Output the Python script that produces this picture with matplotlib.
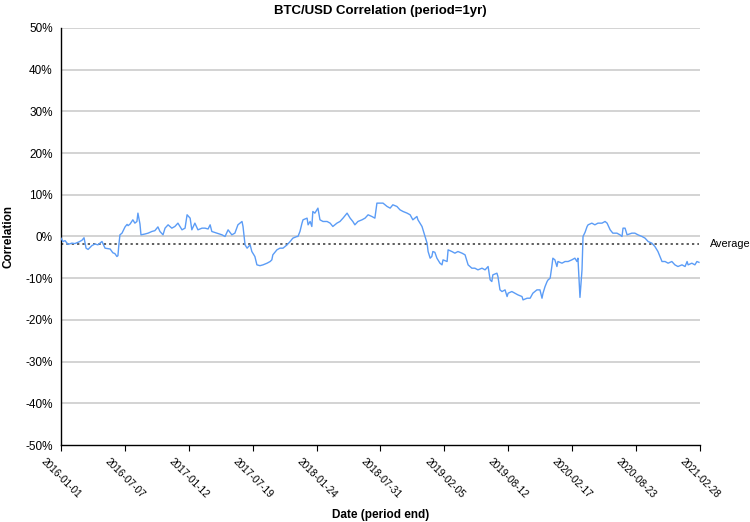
import matplotlib
matplotlib.use("Agg")
import matplotlib.pyplot as plt
import numpy as np

plt.rcParams['font.family'] = ['Liberation Sans', 'DejaVu Sans']

# day offset from 2016-01-01 (period end), correlation in %
days = [0, 6, 12, 21, 32, 41, 53, 62, 68, 74, 80, 91, 100, 109, 121, 130, 145, 153, 159, 165,
        168, 171, 174, 180, 189, 195, 198, 204, 212, 218, 224, 227, 233, 236, 248, 257, 268, 277,
        286, 292, 301, 307, 316, 327, 336, 345, 357, 366, 372, 381, 386, 395, 404, 416, 425, 434,
        440, 445, 460, 475, 484, 493, 504, 513, 522, 534, 537, 543, 549, 558, 563, 572, 578, 587,
        596, 608, 617, 622, 625, 637, 646, 655, 667, 676, 684, 696, 699, 705, 711, 714, 726, 729,
        735, 740, 743, 749, 752, 758, 764, 773, 785, 794, 802, 814, 823, 832, 844, 853, 861, 867,
        876, 888, 897, 906, 917, 926, 932, 941, 950, 962, 971, 979, 991, 1000, 1009, 1021, 1030,
        1038, 1050, 1053, 1059, 1065, 1068, 1074, 1080, 1083, 1089, 1094, 1097, 1103, 1109, 1118,
        1124, 1127, 1139, 1142, 1153, 1162, 1171, 1183, 1192, 1201, 1212, 1221, 1230, 1242, 1251,
        1260, 1266, 1271, 1274, 1286, 1289, 1295, 1301, 1310, 1316, 1319, 1330, 1339, 1348, 1360,
        1363, 1375, 1384, 1392, 1404, 1413, 1419, 1422, 1428, 1434, 1437, 1443, 1448, 1451, 1457,
        1463, 1466, 1478, 1487, 1496, 1507, 1516, 1522, 1525, 1531, 1537, 1540, 1546, 1552, 1555,
        1566, 1575, 1584, 1596, 1605, 1611, 1620, 1628, 1640, 1649, 1655, 1658, 1664, 1670, 1684,
        1693, 1702, 1714, 1723, 1732, 1743, 1752, 1761, 1767, 1773, 1782, 1791, 1802, 1811, 1820,
        1832, 1841, 1847, 1850, 1861, 1870, 1876, 1882]
corr = [-0.4, -1.2, -1.0, -1.9, -1.6, -1.7, -1.3, -0.9, -0.3, -2.8, -3.1, -2.2, -1.8, -2.0, -1.2,
        -2.8, -3.0, -3.9, -4.1, -4.8, -4.6, -1.8, 0.4, 0.8, 2.3, 2.9, 2.6, 3.0, 4.0, 3.2, 3.6, 5.6,
        3.0, 0.4, 0.6, 0.8, 1.2, 1.4, 2.3, 1.2, 0.4, 2.0, 2.8, 2.0, 2.4, 3.2, 1.6, 2.0, 5.2, 4.4,
        1.6, 3.2, 1.6, 2.0, 2.0, 1.8, 2.8, 1.2, 0.8, 0.4, 0.0, 1.6, 0.4, 0.8, 2.8, 3.6, 2.4, -2.0,
        -2.8, -2.0, -3.6, -4.8, -6.8, -7.0, -6.8, -6.4, -6.0, -5.6, -4.4, -3.2, -2.8, -2.8, -2.0,
        -1.2, -0.4, 0.0, 0.0, 1.2, 3.2, 4.0, 4.4, 2.8, 3.6, 2.4, 6.0, 5.6, 6.0, 6.8, 4.0, 3.6, 3.6,
        3.2, 2.4, 3.2, 3.6, 4.4, 5.6, 4.4, 3.6, 2.8, 3.6, 4.0, 4.4, 5.2, 4.8, 4.4, 8.0, 8.0, 8.0,
        7.2, 6.8, 7.6, 7.2, 6.4, 6.0, 5.6, 5.2, 4.0, 4.8, 4.0, 3.2, 2.4, 1.6, 0.0, -1.6, -3.6,
        -5.2, -4.8, -3.6, -3.8, -5.2, -6.4, -6.8, -5.6, -6.0, -3.2, -3.6, -4.0, -3.6, -4.0, -4.4,
        -6.8, -7.6, -7.6, -8.0, -7.6, -8.0, -7.2, -10.4, -10.8, -9.2, -8.8, -9.6, -12.8, -13.2,
        -12.8, -14.4, -13.6, -13.2, -13.6, -14.0, -14.4, -15.2, -14.8, -14.8, -13.6, -12.8, -12.8,
        -14.8, -13.6, -12.0, -10.8, -10.4, -10.0, -7.2, -5.2, -5.6, -7.2, -6.0, -6.4, -6.0, -6.0,
        -5.6, -5.2, -6.0, -5.2, -14.6, -8.0, 0.0, 1.0, 2.4, 2.8, 3.2, 2.8, 3.2, 3.2, 3.6, 3.2, 1.6,
        0.8, 0.8, 0.4, 0.0, 2.0, 2.0, 0.4, 0.8, 0.8, 0.4, 0.0, -0.4, -1.2, -1.6, -2.4, -3.6, -4.8,
        -6.0, -6.0, -6.4, -6.0, -6.8, -7.2, -6.8, -7.2, -6.0, -6.8, -6.4, -6.8, -6.0, -6.2]
average = -1.9
span_days = 1885
tick_labels = ["2016-01-01", "2016-07-07", "2017-01-12", "2017-07-19", "2018-01-24", "2018-07-31",
               "2019-02-05", "2019-08-12", "2020-02-17", "2020-08-23", "2021-02-28"]
y_ticks = [-50, -40, -30, -20, -10, 0, 10, 20, 30, 40, 50]
y_labels = ["-50%", "-40%", "-30%", "-20%", "-10%", "0%", "10%", "20%", "30%", "40%", "50%"]

fig = plt.figure(figsize=(7.5, 5.22), dpi=100)
ax = fig.add_axes([0.0813, 0.1475, 0.852, 0.7989])

for yt in y_ticks[1:]:
    ax.axhline(yt, color='#c8c8c8', linewidth=1.1, zorder=1)

ax.plot(days, corr, color='#5b9cf6', linewidth=1.0, zorder=3)
ax.plot([0, days[-1]], [average, average], color='#333333', linewidth=1.1,
        linestyle=(0, (1.5, 2)), zorder=2)
ax.text(1.015, (average + 50) / 100, "Average", transform=ax.transAxes,
        fontsize=7.8, va='center', ha='left')

ax.set_xlim(0, span_days)
ax.set_ylim(-50, 50)
ax.set_yticks(y_ticks)
ax.set_yticklabels(y_labels, fontsize=8.5)
ax.set_xticks(np.linspace(0, span_days, len(tick_labels)))
ax.set_xticklabels(tick_labels, rotation=-45, ha='center', va='top', fontsize=7.3)
ax.tick_params(axis='y', length=0, pad=6)
ax.tick_params(axis='x', length=4, width=0.8, direction='out', pad=4)

for s in ['top', 'right']:
    ax.spines[s].set_visible(False)
ax.spines['left'].set_linewidth(1.0)
ax.spines['bottom'].set_linewidth(1.0)

ax.set_title("BTC/USD Correlation (period=1yr)", fontsize=9.5, fontweight='bold', pad=10)
ax.set_ylabel("Correlation", fontsize=8.5, fontweight='bold', labelpad=8)
ax.set_xlabel("Date (period end)", fontsize=8.5, fontweight='bold', va='center')
ax.xaxis.set_label_coords(0.5, -0.168)

fig.savefig("out.png", dpi=100)
